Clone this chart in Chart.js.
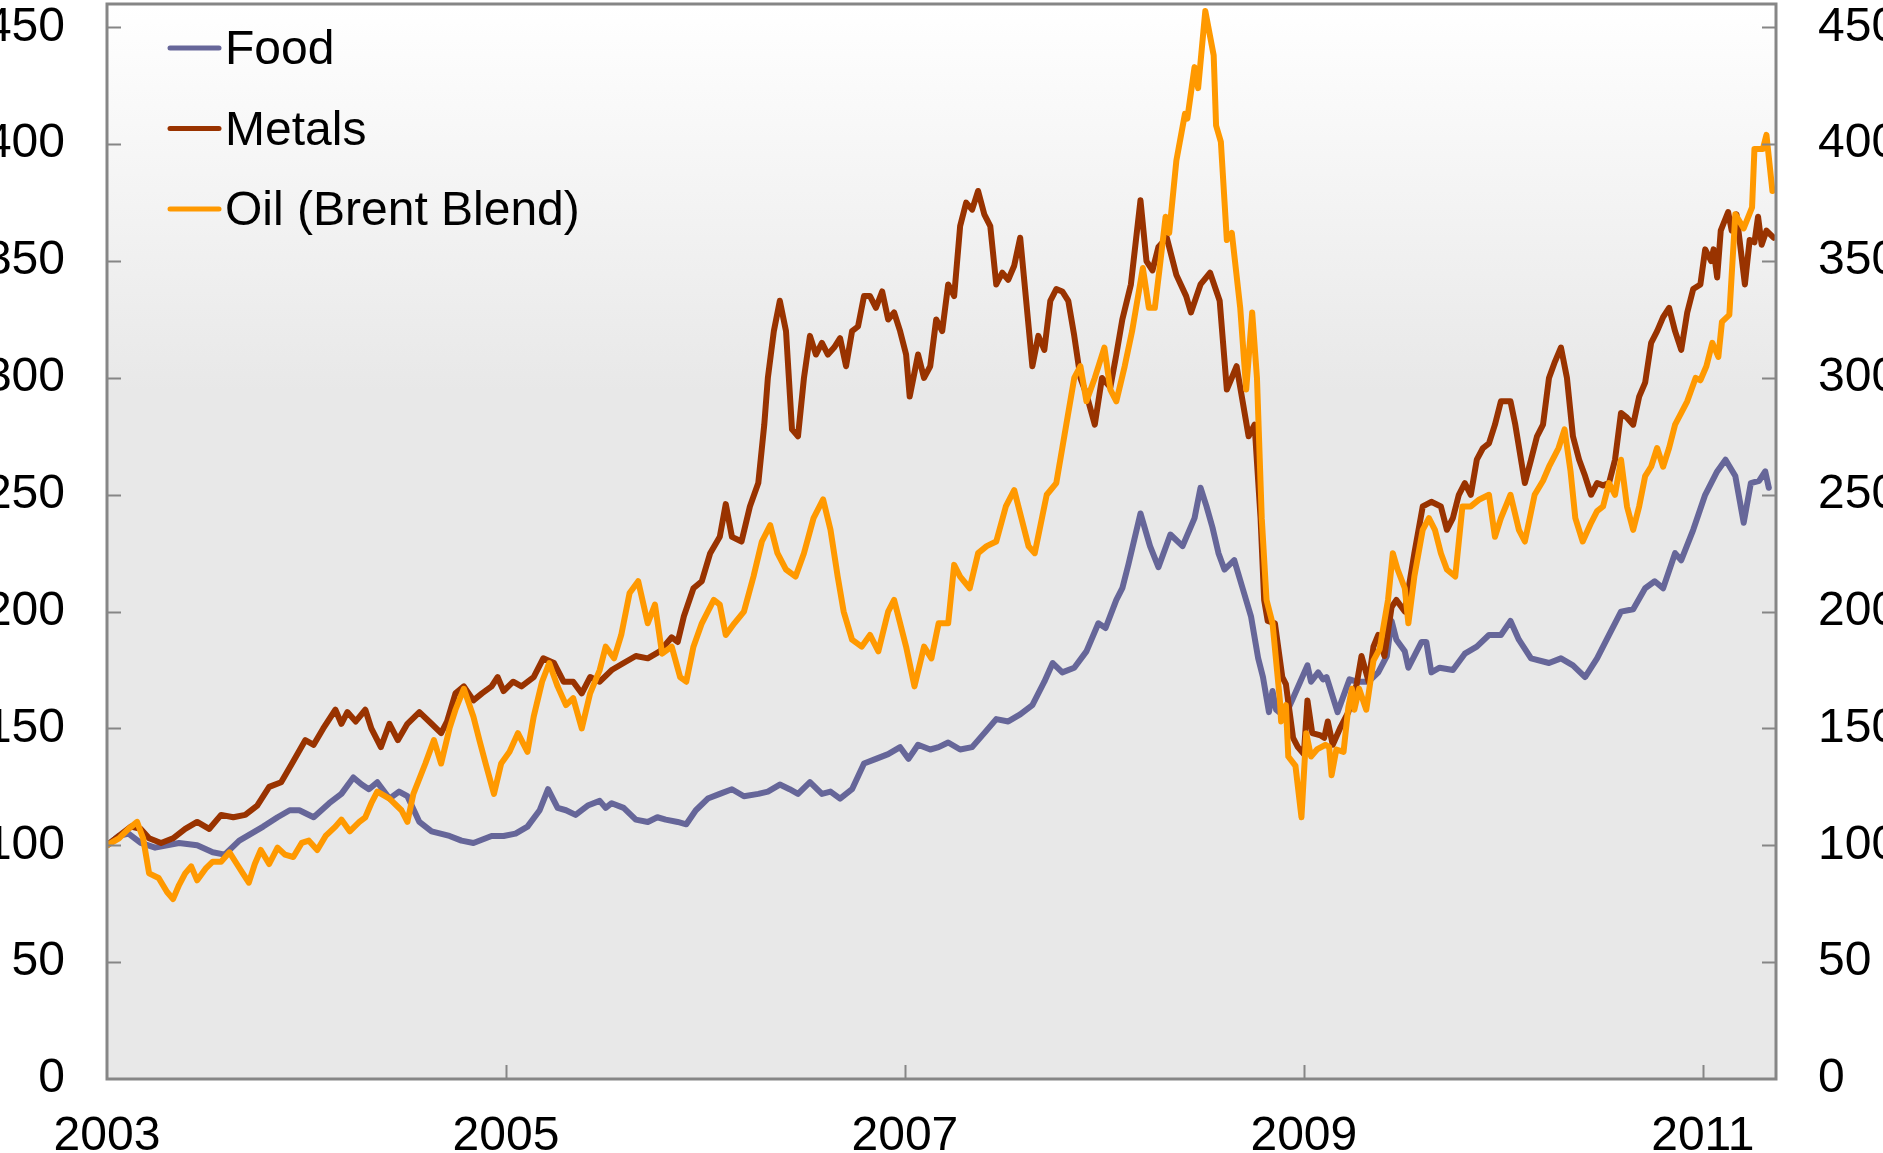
<!DOCTYPE html>
<html>

<head>
    <title>Commodity prices</title>
    <script src="https://cdn.jsdelivr.net/npm/chart.js"></script>
    <style>
        html,
        body {
            margin: 0;
            padding: 0;
            background: #ffffff;
            overflow: hidden;
        }

        #wrap {
            width: 1883px;
            height: 1153px;
        }
    </style>
</head>

<body>
    <div id="wrap"><canvas id="myChart" width="1883" height="1153"></canvas></div>

    <script>
        // Index, 2003 = 100
        const seriesNames = ['Food', 'Metals', 'Oil (Brent Blend)'];
        const seriesColors = ['#666699', '#993300', '#ff9900'];
        const yearTicks = [2003, 2005, 2007, 2009, 2011];
        const valueTicks = [0, 50, 100, 150, 200, 250, 300, 350, 400, 450];

        const foodYears = [
            2003.000, 2003.060, 2003.108, 2003.169, 2003.241, 2003.361, 2003.452, 2003.530, 2003.590, 2003.663,
            2003.723, 2003.783, 2003.855, 2003.916, 2003.964, 2004.036, 2004.114, 2004.175, 2004.235, 2004.277,
            2004.313, 2004.355, 2004.416, 2004.464, 2004.506, 2004.566, 2004.627, 2004.717, 2004.777, 2004.837,
            2004.928, 2004.988, 2005.048, 2005.108, 2005.169, 2005.211, 2005.259, 2005.301, 2005.349, 2005.410,
            2005.470, 2005.500, 2005.530, 2005.590, 2005.651, 2005.711, 2005.759, 2005.801, 2005.861, 2005.904,
            2005.952, 2006.012, 2006.072, 2006.133, 2006.193, 2006.265, 2006.313, 2006.373, 2006.422, 2006.464,
            2006.524, 2006.584, 2006.627, 2006.675, 2006.735, 2006.795, 2006.855, 2006.916, 2006.976, 2007.018,
            2007.066, 2007.127, 2007.169, 2007.217, 2007.277, 2007.337, 2007.398, 2007.458, 2007.518, 2007.578,
            2007.639, 2007.699, 2007.741, 2007.789, 2007.849, 2007.910, 2007.970, 2008.006, 2008.060, 2008.090,
            2008.120, 2008.181, 2008.229, 2008.271, 2008.331, 2008.392, 2008.452, 2008.482, 2008.512, 2008.542,
            2008.572, 2008.602, 2008.651, 2008.693, 2008.735, 2008.771, 2008.795, 2008.825, 2008.843, 2008.861,
            2008.904, 2008.946, 2008.982, 2009.018, 2009.036, 2009.072, 2009.096, 2009.114, 2009.169, 2009.229,
            2009.265, 2009.325, 2009.373, 2009.416, 2009.440, 2009.464, 2009.506, 2009.524, 2009.590, 2009.614,
            2009.639, 2009.681, 2009.747, 2009.807, 2009.867, 2009.928, 2009.988, 2010.036, 2010.078, 2010.139,
            2010.229, 2010.289, 2010.349, 2010.410, 2010.470, 2010.530, 2010.590, 2010.651, 2010.711, 2010.759,
            2010.801, 2010.861, 2010.892, 2010.952, 2011.012, 2011.072, 2011.114, 2011.163, 2011.205, 2011.241,
            2011.283, 2011.313, 2011.331
        ];
        const foodValues = [
            100, 104, 105, 101, 99, 101, 100, 97, 96, 102,
            105, 108, 112, 115, 115, 112, 118, 122, 129, 126,
            124, 127, 120, 123, 121, 110, 106, 104, 102, 101,
            104, 104, 105, 108, 115, 124, 116, 115, 113, 117,
            119, 116, 118, 116, 111, 110, 112, 111, 110, 109,
            115, 120, 122, 124, 121, 122, 123, 126, 124, 122,
            127, 122, 123, 120, 124, 135, 137, 139, 142, 137,
            143, 141, 142, 144, 141, 142, 148, 154, 153, 156,
            160, 170, 178, 174, 176, 183, 195, 193, 205, 210,
            220, 242, 228, 219, 233, 228, 240, 253, 245, 236,
            225, 218, 222, 210, 198, 180, 172, 157, 166, 158,
            155, 163, 170, 177, 170, 174, 171, 172, 157, 171,
            170, 170, 174, 181, 196, 188, 183, 176, 187, 187,
            174, 176, 175, 182, 185, 190, 190, 196, 188, 180,
            178, 180, 177, 172, 180, 190, 200, 201, 210, 213,
            210, 225, 222, 235, 250, 260, 265, 258, 238, 255,
            256, 260, 253
        ];

        const metalsYears = [
            2003.000, 2003.060, 2003.120, 2003.169, 2003.211, 2003.271, 2003.331, 2003.392, 2003.452, 2003.512,
            2003.572, 2003.633, 2003.693, 2003.753, 2003.813, 2003.873, 2003.934, 2003.994, 2004.036, 2004.084,
            2004.145, 2004.175, 2004.205, 2004.247, 2004.295, 2004.325, 2004.373, 2004.416, 2004.458, 2004.506,
            2004.566, 2004.627, 2004.675, 2004.705, 2004.747, 2004.789, 2004.837, 2004.880, 2004.928, 2004.958,
            2004.988, 2005.036, 2005.078, 2005.139, 2005.187, 2005.241, 2005.289, 2005.337, 2005.380, 2005.422,
            2005.470, 2005.530, 2005.590, 2005.651, 2005.711, 2005.771, 2005.831, 2005.861, 2005.892, 2005.940,
            2005.982, 2006.024, 2006.072, 2006.102, 2006.133, 2006.181, 2006.223, 2006.265, 2006.295, 2006.313,
            2006.343, 2006.373, 2006.404, 2006.434, 2006.464, 2006.494, 2006.524, 2006.554, 2006.584, 2006.614,
            2006.645, 2006.675, 2006.705, 2006.735, 2006.765, 2006.795, 2006.825, 2006.855, 2006.886, 2006.916,
            2006.946, 2006.976, 2007.006, 2007.024, 2007.066, 2007.096, 2007.127, 2007.157, 2007.187, 2007.217,
            2007.247, 2007.277, 2007.307, 2007.337, 2007.367, 2007.398, 2007.428, 2007.458, 2007.488, 2007.518,
            2007.548, 2007.578, 2007.608, 2007.639, 2007.669, 2007.699, 2007.729, 2007.759, 2007.789, 2007.819,
            2007.849, 2007.880, 2007.910, 2007.952, 2007.988, 2008.030, 2008.060, 2008.090, 2008.133, 2008.181,
            2008.211, 2008.241, 2008.271, 2008.313, 2008.361, 2008.410, 2008.434, 2008.482, 2008.530, 2008.578,
            2008.614, 2008.663, 2008.693, 2008.723, 2008.753, 2008.783, 2008.801, 2008.819, 2008.855, 2008.892,
            2008.910, 2008.946, 2008.970, 2009.000, 2009.018, 2009.042, 2009.084, 2009.102, 2009.120, 2009.145,
            2009.181, 2009.223, 2009.265, 2009.289, 2009.325, 2009.349, 2009.373, 2009.404, 2009.440, 2009.464,
            2009.506, 2009.554, 2009.596, 2009.639, 2009.687, 2009.717, 2009.747, 2009.777, 2009.807, 2009.837,
            2009.867, 2009.898, 2009.928, 2009.958, 2009.988, 2010.036, 2010.060, 2010.108, 2010.139, 2010.169,
            2010.199, 2010.229, 2010.259, 2010.289, 2010.319, 2010.349, 2010.380, 2010.410, 2010.440, 2010.470,
            2010.500, 2010.530, 2010.560, 2010.590, 2010.620, 2010.651, 2010.681, 2010.711, 2010.741, 2010.771,
            2010.801, 2010.831, 2010.861, 2010.892, 2010.922, 2010.952, 2010.988, 2011.012, 2011.042, 2011.054,
            2011.072, 2011.090, 2011.127, 2011.145, 2011.169, 2011.211, 2011.235, 2011.259, 2011.277, 2011.295,
            2011.319, 2011.355
        ];
        const metalsValues = [
            100, 104, 108, 107, 103, 101, 103, 107, 110, 107,
            113, 112, 113, 117, 125, 127, 136, 145, 143, 150,
            158, 152, 157, 153, 158, 150, 142, 152, 145, 152,
            157, 152, 148, 153, 165, 168, 162, 165, 168, 172,
            166, 170, 168, 172, 180, 178, 170, 170, 165, 172,
            170, 175, 178, 181, 180, 183, 189, 187, 198, 210,
            213, 225, 232, 246, 232, 230, 245, 255, 280, 300,
            320, 333, 320, 278, 275, 300, 318, 310, 315, 310,
            313, 317, 305, 320, 322, 335, 335, 330, 337, 325,
            328, 320, 310, 292, 310, 300, 305, 325, 320, 340,
            335, 365, 375, 372, 380, 370, 365, 340, 345, 342,
            348, 360, 333, 305, 318, 312, 333, 338, 337, 333,
            318, 300, 293, 280, 300, 296, 310, 325, 340, 376,
            350, 346, 356, 360, 344, 335, 328, 340, 345, 333,
            295, 305, 290, 275, 280, 240, 205, 196, 195, 172,
            169, 146, 142, 139, 162, 148, 147, 146, 153, 143,
            150, 157, 169, 181, 170, 185, 190, 181, 202, 205,
            200, 225, 245, 247, 245, 235, 240, 250, 255, 250,
            265, 270, 272, 280, 290, 290, 280, 255, 265, 275,
            280, 300, 307, 313, 300, 275, 265, 258, 250, 255,
            254, 255, 265, 285, 283, 280, 292, 298, 315, 320,
            326, 330, 320, 312, 328, 338, 340, 355, 350, 355,
            343, 363, 371, 363, 370, 340, 359, 358, 369, 357,
            363, 360
        ];

        const oilYears = [
            2003.000, 2003.060, 2003.108, 2003.151, 2003.181, 2003.211, 2003.259, 2003.301, 2003.331, 2003.361,
            2003.392, 2003.422, 2003.452, 2003.494, 2003.530, 2003.572, 2003.614, 2003.651, 2003.681, 2003.711,
            2003.741, 2003.771, 2003.813, 2003.855, 2003.892, 2003.934, 2003.976, 2004.012, 2004.054, 2004.096,
            2004.145, 2004.175, 2004.217, 2004.265, 2004.295, 2004.325, 2004.355, 2004.416, 2004.476, 2004.506,
            2004.536, 2004.596, 2004.639, 2004.675, 2004.717, 2004.747, 2004.789, 2004.837, 2004.867, 2004.898,
            2004.940, 2004.976, 2005.018, 2005.060, 2005.108, 2005.139, 2005.181, 2005.217, 2005.259, 2005.301,
            2005.337, 2005.380, 2005.422, 2005.470, 2005.500, 2005.542, 2005.578, 2005.620, 2005.663, 2005.711,
            2005.747, 2005.783, 2005.831, 2005.873, 2005.904, 2005.940, 2005.982, 2006.012, 2006.042, 2006.072,
            2006.102, 2006.145, 2006.193, 2006.241, 2006.283, 2006.325, 2006.361, 2006.404, 2006.452, 2006.494,
            2006.542, 2006.590, 2006.627, 2006.663, 2006.693, 2006.735, 2006.783, 2006.825, 2006.867, 2006.916,
            2006.946, 2006.976, 2007.006, 2007.048, 2007.096, 2007.133, 2007.169, 2007.217, 2007.247, 2007.277,
            2007.325, 2007.367, 2007.410, 2007.458, 2007.506, 2007.548, 2007.578, 2007.620, 2007.651, 2007.687,
            2007.711, 2007.759, 2007.789, 2007.819, 2007.849, 2007.880, 2007.910, 2007.952, 2008.000, 2008.030,
            2008.060, 2008.102, 2008.139, 2008.193, 2008.223, 2008.253, 2008.277, 2008.307, 2008.325, 2008.361,
            2008.404, 2008.416, 2008.452, 2008.470, 2008.506, 2008.548, 2008.560, 2008.584, 2008.614, 2008.639,
            2008.681, 2008.711, 2008.741, 2008.765, 2008.789, 2008.813, 2008.843, 2008.880, 2008.886, 2008.910,
            2008.922, 2008.958, 2008.988, 2009.012, 2009.036, 2009.066, 2009.108, 2009.127, 2009.139, 2009.163,
            2009.199, 2009.223, 2009.241, 2009.253, 2009.277, 2009.313, 2009.349, 2009.380, 2009.422, 2009.446,
            2009.470, 2009.506, 2009.524, 2009.554, 2009.596, 2009.627, 2009.657, 2009.687, 2009.717, 2009.759,
            2009.795, 2009.837, 2009.880, 2009.928, 2009.958, 2009.988, 2010.036, 2010.078, 2010.108, 2010.157,
            2010.199, 2010.229, 2010.277, 2010.307, 2010.337, 2010.361, 2010.398, 2010.440, 2010.470, 2010.500,
            2010.530, 2010.560, 2010.590, 2010.620, 2010.651, 2010.681, 2010.711, 2010.741, 2010.771, 2010.801,
            2010.831, 2010.861, 2010.892, 2010.922, 2010.964, 2010.988, 2011.018, 2011.048, 2011.078, 2011.096,
            2011.133, 2011.163, 2011.205, 2011.247, 2011.259, 2011.301, 2011.319, 2011.349
        ];
        const oilValues = [
            100, 103, 107, 110, 103, 88, 86, 80, 77, 83,
            88, 91, 85, 90, 93, 93, 97, 92, 88, 84,
            92, 98, 92, 99, 96, 95, 101, 102, 98, 104,
            108, 111, 106, 110, 112, 118, 123, 120, 115, 110,
            122, 135, 145, 135, 150, 158, 167, 155, 145, 135,
            122, 135, 140, 148, 140, 155, 170, 178, 168, 160,
            163, 150, 165, 175, 185, 180, 190, 208, 213, 195,
            203, 182, 185, 172, 170, 185, 195, 200, 205, 203,
            190, 195, 200, 215, 230, 237, 225, 218, 215, 225,
            240, 248, 235, 215, 200, 188, 185, 190, 183, 200,
            205, 195, 185, 168, 185, 180, 195, 195, 220, 215,
            210, 225, 228, 230, 245, 252, 242, 228, 225, 240,
            250, 255, 270, 285, 300, 305, 290, 300, 313, 295,
            290, 305, 320, 347, 330, 330, 347, 369, 362, 393,
            413, 411, 433, 424, 457, 438, 408, 401, 359, 362,
            330, 295, 328, 300, 240, 205, 195, 162, 153, 160,
            138, 134, 112, 148, 138, 141, 143, 142, 130, 141,
            140, 159, 167, 158, 167, 158, 179, 184, 205, 225,
            218, 210, 195, 215, 235, 240, 235, 225, 218, 215,
            245, 245, 248, 250, 232, 240, 250, 235, 230, 250,
            256, 262, 270, 278, 260, 240, 230, 238, 243, 245,
            255, 250, 265, 245, 235, 245, 258, 262, 270, 262,
            270, 280, 285, 290, 300, 299, 305, 315, 309, 324,
            327, 370, 364, 373, 398, 398, 404, 380
        ];

        const toPoints = (years, values) => years.map((t, i) => ({ x: t, y: values[i] }));

        const font = { family: "'Liberation Sans', Arial, sans-serif", size: 48 };
        const axisGrey = '#868686';

        // plot background: white at the top fading into light grey
        const plotBackground = {
            id: 'plotBackground',
            beforeDraw(chart) {
                const { ctx, chartArea: a } = chart;
                const g = ctx.createLinearGradient(0, a.top, 0, a.bottom);
                g.addColorStop(0, '#ffffff');
                g.addColorStop(0.36, '#e8e8e8');
                g.addColorStop(1, '#e8e8e8');
                ctx.save();
                ctx.fillStyle = g;
                ctx.fillRect(a.left, a.top, a.right - a.left, a.bottom - a.top);
                ctx.restore();
            }
        };

        // frame and inward tick marks
        const frame = {
            id: 'frame',
            afterDraw(chart) {
                const { ctx, chartArea: a, scales } = chart;
                ctx.save();
                ctx.strokeStyle = axisGrey;
                ctx.lineWidth = 2;
                ctx.beginPath();
                valueTicks.slice(1).forEach(v => {
                    const y = Math.round(scales.y.getPixelForValue(v)) + 0.5;
                    ctx.moveTo(a.left, y);
                    ctx.lineTo(a.left + 14, y);
                    ctx.moveTo(a.right, y);
                    ctx.lineTo(a.right - 14, y);
                });
                yearTicks.slice(1).forEach(t => {
                    const x = Math.round(scales.x.getPixelForValue(t)) + 0.5;
                    ctx.moveTo(x, a.bottom);
                    ctx.lineTo(x, a.bottom - 14);
                });
                ctx.stroke();
                ctx.lineWidth = 3;
                ctx.strokeRect(a.left, a.top, a.right - a.left, a.bottom - a.top);
                ctx.restore();
            }
        };

        // legend stacked in the top left corner of the plot
        const cornerLegend = {
            id: 'cornerLegend',
            afterDraw(chart) {
                const ctx = chart.ctx;
                ctx.save();
                ctx.font = font.size + 'px ' + font.family;
                ctx.textBaseline = 'middle';
                ctx.lineCap = 'round';
                chart.data.datasets.forEach((ds, i) => {
                    const y = 48 + i * 80.5;
                    ctx.strokeStyle = ds.borderColor;
                    ctx.lineWidth = 5;
                    ctx.beginPath();
                    ctx.moveTo(170, y);
                    ctx.lineTo(219, y);
                    ctx.stroke();
                    ctx.fillStyle = '#000000';
                    ctx.fillText(ds.label, 225, y + 3);
                });
                ctx.restore();
            }
        };

        const valueAxis = (position) => ({
            position: position,
            min: 0,
            max: 460,
            afterBuildTicks: s => { s.ticks = valueTicks.map(v => ({ value: v })); },
            afterFit: s => { s.width = 107; s.paddingTop = 0; s.paddingBottom = 0; },
            grid: { display: false, drawTicks: false },
            border: { display: false },
            ticks: { font: font, color: '#000000', padding: 42, callback: v => String(v) }
        });

        const ctx = document.getElementById('myChart').getContext('2d');

        const myChart = new Chart(ctx, {
            type: 'line',
            data: {
                datasets: [
                    { label: seriesNames[0], data: toPoints(foodYears, foodValues), borderColor: seriesColors[0], order: 3 },
                    { label: seriesNames[1], data: toPoints(metalsYears, metalsValues), borderColor: seriesColors[1], order: 2 },
                    { label: seriesNames[2], data: toPoints(oilYears, oilValues), borderColor: seriesColors[2], order: 1 }
                ]
            },
            options: {
                responsive: false,
                devicePixelRatio: 1,
                animation: false,
                events: [],
                layout: { padding: { top: 4, left: 0, right: 0, bottom: 0 } },
                elements: {
                    line: { borderWidth: 6, tension: 0, borderJoinStyle: 'round', borderCapStyle: 'round', fill: false },
                    point: { radius: 0 }
                },
                plugins: {
                    legend: { display: false },
                    tooltip: { enabled: false }
                },
                scales: {
                    x: {
                        type: 'linear',
                        min: 2003,
                        max: 2011.367,
                        afterBuildTicks: s => { s.ticks = yearTicks.map(v => ({ value: v })); },
                        afterFit: s => { s.height = 74; s.paddingLeft = 0; s.paddingRight = 0; },
                        grid: { display: false, drawTicks: false },
                        border: { display: false },
                        ticks: { font: font, color: '#000000', padding: 29, maxRotation: 0, autoSkip: false, callback: v => String(v) }
                    },
                    y: valueAxis('left'),
                    y2: valueAxis('right')
                }
            },
            plugins: [plotBackground, frame, cornerLegend]
        });
    </script>
</body>

</html>
